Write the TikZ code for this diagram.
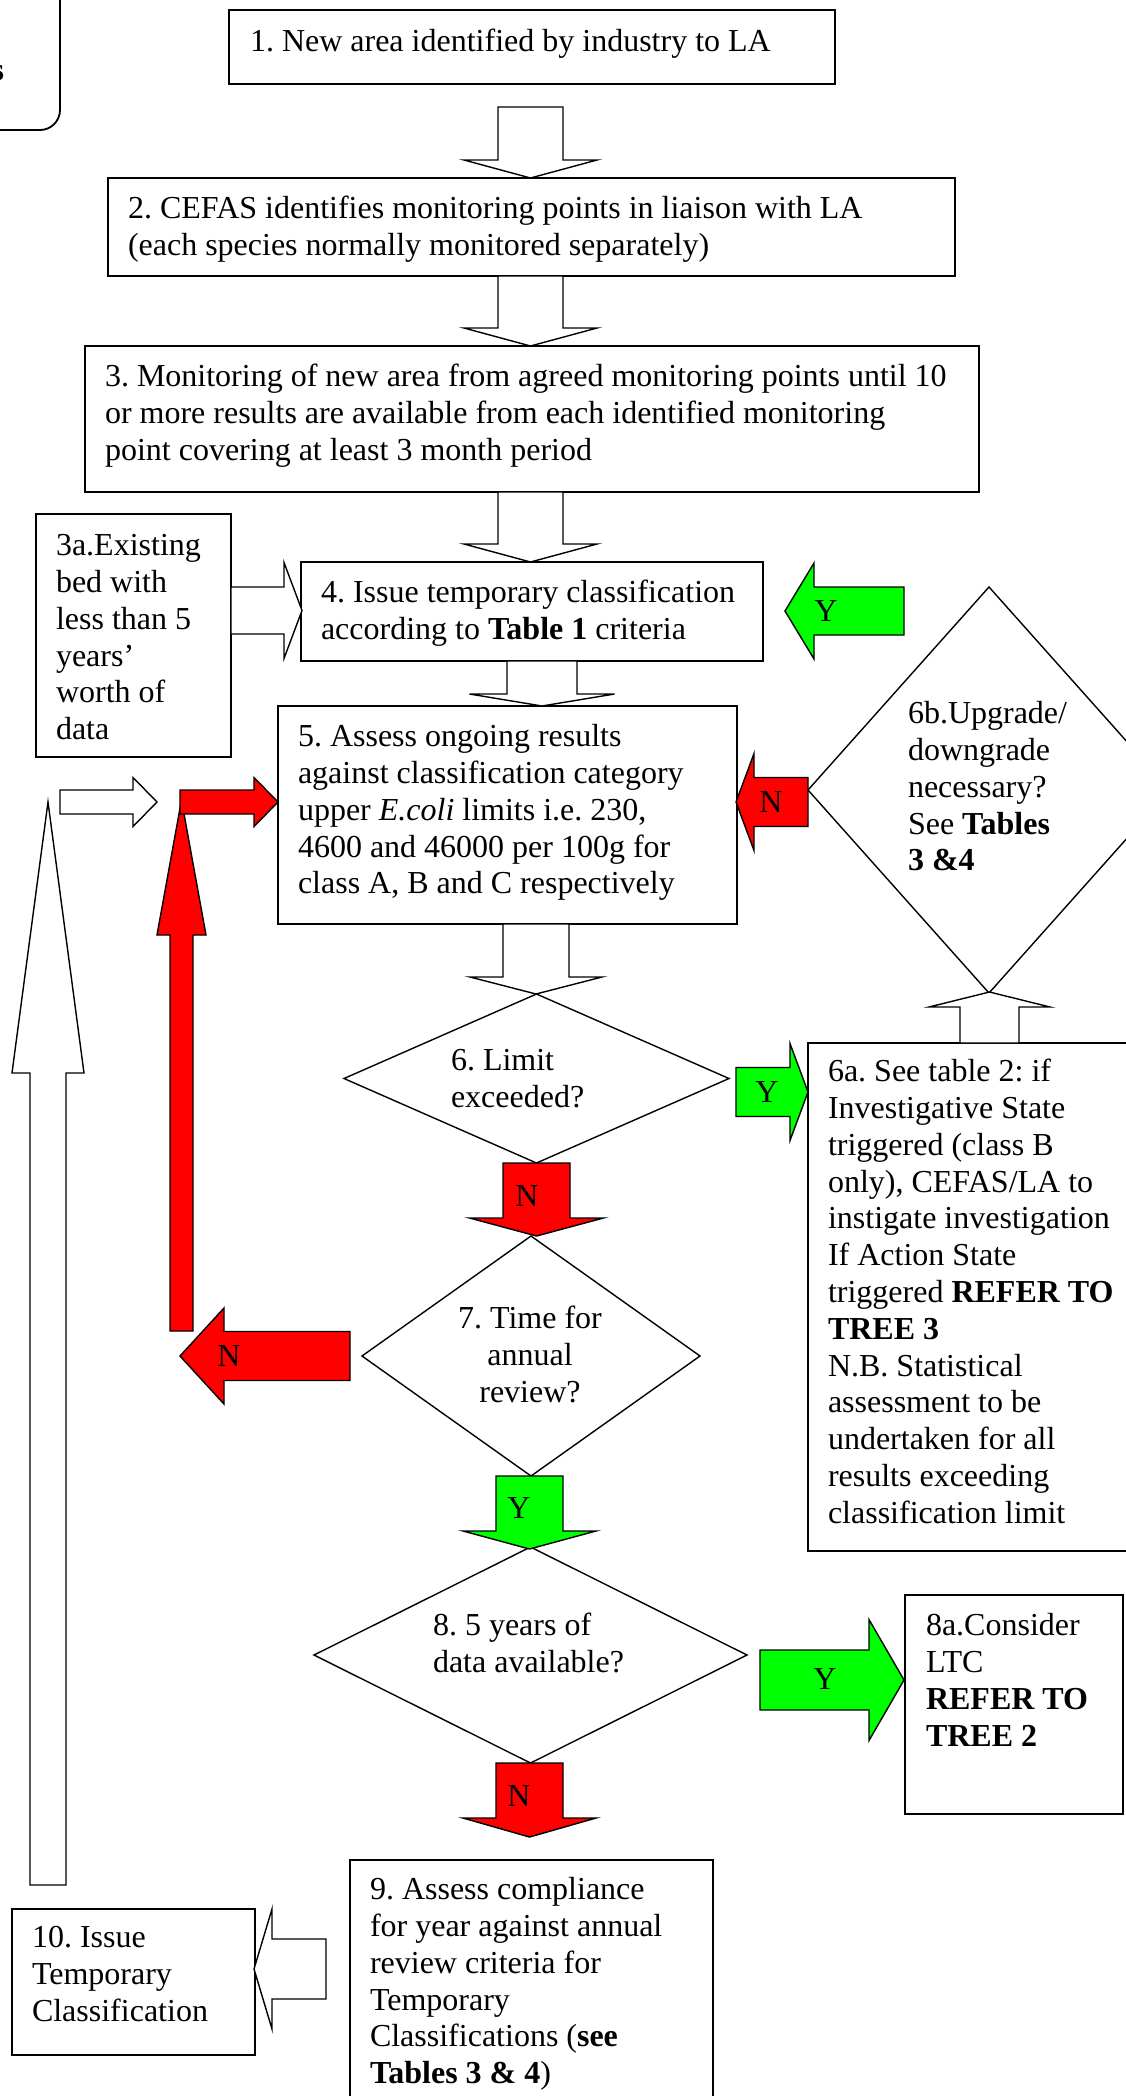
\documentclass[tikz,border=0pt]{standalone}
\usepackage{fontspec}
\setmainfont{Liberation Serif}
\usetikzlibrary{shapes.geometric}
\definecolor{arrgreen}{RGB}{0,255,0}
\definecolor{arrred}{RGB}{255,0,0}
% vertical block arrow: style, cx, ytail, ybase, ytip, shaft half width, head half width
\newcommand{\vblk}[7]{%
  \draw[#1] ({#2-#6},#3) -- ({#2+#6},#3) -- ({#2+#6},#4) -- ({#2+#7},#4) -- (#2,#5) -- ({#2-#7},#4) -- ({#2-#6},#4) -- cycle;}
% horizontal block arrow: style, cy, xtail, xbase, xtip, shaft half height, head half height
\newcommand{\hblk}[7]{%
  \draw[#1] (#3,{#2-#6}) -- (#3,{#2+#6}) -- (#4,{#2+#6}) -- (#4,{#2+#7}) -- (#5,#2) -- (#4,{#2-#7}) -- (#4,{#2-#6}) -- cycle;}
\newcommand{\firststrut}{\rule{0pt}{25.76pt}}
\frenchspacing
\begin{document}
\frenchspacing
\begin{tikzpicture}[x=1pt,y=-1pt,
  every node/.style={font=\fontsize{32}{36.8}\selectfont\frenchspacing, inner sep=0pt, outer sep=0pt},
  box/.style={draw=black, line width=1.8pt, fill=white, anchor=north west},
  txt/.style={anchor=north west, align=left},
  dia/.style={diamond, draw=black, line width=1.4pt, fill=white},
  hollow/.style={draw=black, line width=1.4pt, fill=white, line join=miter},
  redarr/.style={draw=black, line width=1.4pt, fill=arrred, line join=miter},
  greenarr/.style={draw=black, line width=1.4pt, fill=arrgreen, line join=miter}]
\useasboundingbox (0,0) rectangle (1126,2096);
\clip (0,0) rectangle (1126,2096);
\fill[white] (0,0) rectangle (1126,2096);

% partly visible box at top left
\node[box, rounded corners=20pt, minimum width=400pt, minimum height=300pt, anchor=south east] (b0) at (60,130) {};
\node[anchor=base east] (t0) at (4,80) {\bfseries s};

% boxes
\node[box, minimum width=606pt, minimum height=74pt]  (b1)  at (229,10) {};
\node[box, minimum width=847pt, minimum height=98pt]  (b2)  at (108,178) {};
\node[box, minimum width=894pt, minimum height=146pt] (b3)  at (85,346) {};
\node[box, minimum width=195pt, minimum height=243pt] (b3a) at (36,514) {};
\node[box, minimum width=462pt, minimum height=99pt]  (b4)  at (301,562) {};
\node[box, minimum width=459pt, minimum height=218pt] (b5)  at (278,706) {};
\node[box, minimum width=340pt, minimum height=508pt] (b6a) at (808,1043) {};
\node[box, minimum width=218pt, minimum height=219pt] (b8a) at (905,1595) {};
\node[box, minimum width=363pt, minimum height=260pt] (b9)  at (350,1860) {};
\node[box, minimum width=243pt, minimum height=146pt] (b10) at (12,1909) {};

% diamonds
\node[dia, minimum width=362pt, minimum height=406pt] (d6b) at (989,790) {};
\node[dia, minimum width=385pt, minimum height=169pt] (d6)  at (536.5,1078.5) {};
\node[dia, minimum width=338pt, minimum height=240pt] (d7)  at (531,1356) {};
\node[dia, minimum width=433pt, minimum height=216pt] (d8)  at (530.5,1655) {};

% vertical block arrows
\vblk{hollow}{530.5}{107}{160}{178}{32.5}{66.5}
\vblk{hollow}{530.5}{276}{328}{346}{32.5}{66.5}
\vblk{hollow}{530.5}{492}{544}{562}{32.5}{66.5}
\vblk{hollow}{542}{661}{694}{706}{35}{72.5}
\vblk{hollow}{536}{924}{977}{994}{33}{66}
\vblk{redarr}{536.5}{1163}{1218}{1236}{33.5}{67}
\vblk{greenarr}{529.5}{1476}{1531}{1549}{33.5}{66.5}
\vblk{redarr}{529.5}{1763}{1818}{1837}{33.5}{66.5}
\vblk{hollow}{989.5}{1043}{1007}{992}{29.5}{60.5}
\vblk{redarr}{181.5}{1331}{935}{800}{11.5}{24.5}
\vblk{hollow}{48}{1885}{1073}{802}{18}{36}

% horizontal block arrows
\hblk{hollow}{610.5}{231}{284}{302}{23.5}{48}
\hblk{greenarr}{611}{904}{814}{785}{24}{48}
\hblk{redarr}{802}{808}{754}{736}{24.5}{48.5}
\hblk{hollow}{802}{60}{133}{157}{12}{24.5}
\hblk{redarr}{802}{180}{254}{278}{12}{24.5}
\hblk{greenarr}{1092}{736}{790}{808}{24.5}{48.5}
\hblk{redarr}{1356}{350}{224}{180}{24.5}{48}
\hblk{greenarr}{1680}{760}{869}{904}{30}{60.5}
\hblk{hollow}{1969}{326}{272}{254}{30}{60}

% arrow labels
\node (ly4) at (826,611) {Y};
\node (ln5) at (771,802) {N};
\node (ly6) at (767,1092) {Y};
\node (ln6) at (527,1196) {N};
\node (ln7) at (229,1356) {N};
\node (ly7) at (519,1508) {Y};
\node (ly8) at (825,1679) {Y};
\node (ln8) at (519,1796) {N};

% texts
\node[txt] (t1) at (250,26) {\firststrut 1. New area identified by industry to LA};
\node[txt] (t2) at (128,193) {\firststrut 2. CEFAS identifies monitoring points in liaison with LA\\(each species normally monitored separately)};
\node[txt] (t3) at (105,361) {\firststrut 3. Monitoring of new area from agreed monitoring points until 10\\or more results are available from each identified monitoring\\point covering at least 3 month period};
\node[txt] (t3a) at (56,530) {\firststrut 3a.Existing\\bed with\\less than 5\\years’\\worth of\\data};
\node[txt] (t4) at (321,577) {\firststrut 4. Issue temporary classification\\according to \textbf{Table 1} criteria};
\node[txt] (t5) at (298,721) {\firststrut 5. Assess ongoing results\\against classification category\\upper \textit{E.coli} limits i.e. 230,\\4600 and 46000 per 100g for\\class A, B and C respectively};
\node[txt] (t6b) at (908,698) {\firststrut 6b.Upgrade/\\downgrade\\necessary?\\See \textbf{Tables}\\\textbf{3 \&4}};
\node[txt] (t6) at (451,1045) {\firststrut 6. Limit\\exceeded?};
\node[txt] (t6a) at (828,1056) {\firststrut 6a. See table 2: if\\Investigative State\\triggered (class B\\only), CEFAS/LA to\\instigate investigation\\If Action State\\triggered \textbf{REFER TO}\\\textbf{TREE 3}\\N.B. Statistical\\assessment to be\\undertaken for all\\results exceeding\\classification limit};
\node[anchor=north, align=center] (t7) at (530,1303) {\firststrut 7. Time for\\annual\\review?};
\node[txt] (t8) at (433,1610) {\firststrut 8. 5 years of\\data available?};
\node[txt] (t8a) at (926,1610) {\firststrut 8a.Consider\\LTC\\\textbf{REFER TO}\\\textbf{TREE 2}};
\node[txt] (t9) at (370,1874) {\firststrut 9. Assess compliance\\for year against annual\\review criteria for\\Temporary\\Classifications (\textbf{see}\\\textbf{Tables 3 \& 4})};
\node[txt] (t10) at (32,1922) {\firststrut 10. Issue\\Temporary\\Classification};
\end{tikzpicture}
\end{document}
